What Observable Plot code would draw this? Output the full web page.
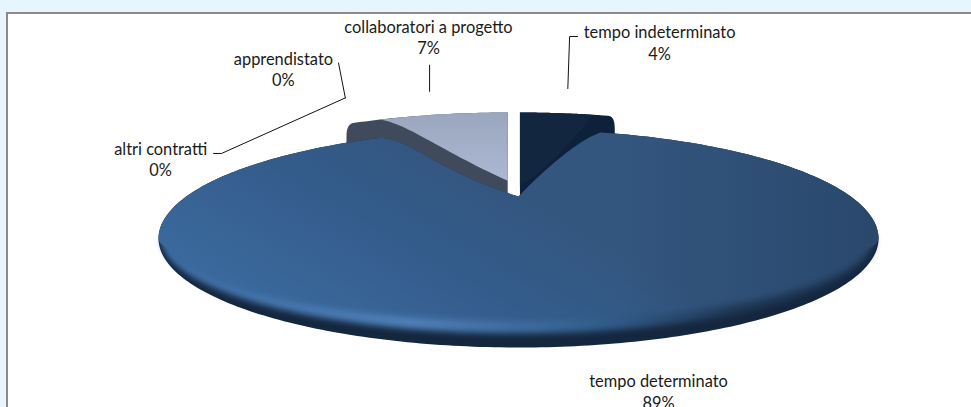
<!DOCTYPE html>
<html><head><meta charset="utf-8">
<script src="https://cdn.jsdelivr.net/npm/d3@7"></script>
<script src="https://cdn.jsdelivr.net/npm/@observablehq/plot@0.6"></script>
<style>
html,body{margin:0;padding:0;width:971px;height:407px;overflow:hidden;background:#e7f6fe}
#frame{position:absolute;left:6px;top:12px;width:990px;height:420px;background:#fff;border:2px solid #8a8a8a;border-bottom:none;border-right:none}
#chart{position:absolute;left:0;top:0}
svg{background:transparent!important;display:block}
</style></head><body>
<div id="frame"></div><div id="chart"></div>
<script>
const categories=["tempo indeterminato","tempo determinato","altri contratti","apprendistato","collaboratori a progetto"];
const shares=[4,89,0,0,7];
const labelX=[0.392,0.389,-0.994,-0.653,-0.25];
const labelY=[1.80,-1.40,0.734,1.56,1.85];
const leaderAltri=[[-0.847,0.78],[-0.825,0.78],[-0.481,1.29]];
const leaderAppr=[[-0.5,1.61],[-0.481,1.29]];
const leaderCollab=[[-0.247,1.59],[-0.247,1.35]];
const leaderInd=[[0.164,1.853],[0.142,1.853],[0.137,1.376]];

const TAU=2*Math.PI;
const rad=d=>d/100*TAU;
const endInd=rad(shares[0]);
const startCol=rad(100-shares[4]);
const rimMain=(a,sx,k)=>{const c=Math.cos(a);return [sx*Math.sin(a),c>=0?c:c*k];};
const oyB=0.156, oxL=-0.03, oxR=0.004;
const rimOff=(a,ox)=>[ox+Math.sin(a),oyB+Math.cos(a)];
const arcOff=(a0,a1,ox)=>d3.range(41).map(i=>rimOff(a0+(a1-a0)*i/40,ox));
function bez(p0,p1,p2,p3){return d3.range(31).map(i=>{const t=i/30,u=1-t;return [0,1].map(k=>u*u*u*p0[k]+3*u*u*t*p1[k]+3*u*t*t*p2[k]+t*t*t*p3[k]);});}

const apex=[0,0.385];
function mainShape(k=1){
  const a0=endInd*0.92,a1=startCol+(TAU-startCol)*0.1;
  const r0=rimMain(a0,1,1), r1=rimMain(a1,1,1);
  const right=bez(apex,[0.047,0.55],[r0[0]*0.69,0.9],r0);
  const left=bez(r1,[r1[0]*0.78,r1[1]],[r1[0]*0.6,0.624],apex);
  const n=300,arc=d3.range(n+1).map(i=>rimMain(a0+(a1-a0)*i/n,1,k));
  return [...right,...arc,...left];
}
// lower part of the rim only, for the soft bevel layers (hidden above by the crisp face)
function lowerShape(sx,k){
  const a0=TAU/4,a1=3*TAU/4,n=200;
  return d3.range(n+1).map(i=>rimMain(a0+(a1-a0)*i/n,sx,k));
}
function wallCol(){
  const a=TAU-rad(shares[4]);
  const r=rimOff(a,oxL);
  const cx=r[0]-0.022, cy=0.94;
  return [[oxL,0.3],[cx,0.7],[cx,cy],...bez([cx,cy],[cx,1.0],[cx+0.004,r[1]-0.005],r).slice(1),...arcOff(a,TAU,oxL)];
}
function wallInd(){
  const a=endInd*0.97;
  const r=rimOff(a,oxR);
  const cx=r[0]+0.022, cy=1.0;
  return [[oxR,0.385],...arcOff(0,a,oxR),...bez(r,[r[0]+0.015,r[1]],[cx,r[1]-0.03],[cx,cy]).slice(1),[cx,0.7]];
}
function faceCol(){
  const a=TAU-rad(shares[4])*0.82;
  const r=rimOff(a,oxL);
  return [...arcOff(a,TAU,oxL),...bez([oxL,0.53],[-0.217,0.807],[-0.3,1.037],r)];
}
function faceInd(){
  const a=endInd*0.81;
  const r=rimOff(a,oxR);
  return [...arcOff(0,a,oxR),...bez(r,[r[0]-0.02,r[1]-0.1],[0.08,0.62],[oxR,0.486])];
}
const poly=(pts,key)=>pts.map(p=>({x:p[0],y:p[1],key}));
const area=(pts,o)=>Plot.line(poly(pts,"s"),{x:"x",y:"y",curve:"linear",stroke:"none",...o});
const labels=categories.map((c,i)=>({t:`${c}\n${shares[i]}%`,x:labelX[i],y:labelY[i]}));
const leader=l=>Plot.line(poly(l,"l"),{x:"x",y:"y",stroke:"#111",strokeWidth:1});

const svg=Plot.plot({
  width:971,height:407,margin:0,
  x:{domain:[-1,1],range:[158,878],axis:null},
  y:{domain:[-1,1],range:[347,129],axis:null},
  style:{background:"transparent"},
  marks:[
    area(wallCol(),{fill:"#3f4a5c"}),
    area(faceCol(),{fill:"url(#gCol)"}),
    area(wallInd(),{fill:"#0d213a"}),
    area(faceInd(),{fill:"#12263f"}),
    area(mainShape(1),{fill:"#15273f"}),
    area(lowerShape(0.99,0.87),{fill:"url(#gHi)",imageFilter:"blur(3px)"}),
    area(lowerShape(0.985,0.76),{fill:"url(#gFace)",imageFilter:"blur(3px)"}),
    area(mainShape(0.4),{fill:"url(#gFace)"}),
    area(mainShape(1),{fill:"url(#gShade)"}),
    leader(leaderAltri),leader(leaderAppr),leader(leaderCollab),leader(leaderInd),
    Plot.text(labels,{x:"x",y:"y",text:"t",lineHeight:1.3,fontSize:16.4,fill:"#1a1a1a",fontFamily:"Lato"})
  ]
});
svg.insertAdjacentHTML("afterbegin",`<defs>
<linearGradient id="gCol" gradientUnits="userSpaceOnUse" x1="0" y1="110" x2="0" y2="190"><stop offset="0" stop-color="#9aa6bd"/><stop offset="1" stop-color="#afbbd6"/></linearGradient>
<linearGradient id="gHi" gradientUnits="userSpaceOnUse" x1="158" y1="0" x2="878" y2="0"><stop offset="0" stop-color="#3f6ea6"/><stop offset=".35" stop-color="#5081b8"/><stop offset=".6" stop-color="#33608f"/><stop offset=".8" stop-color="#223c5c"/><stop offset="1" stop-color="#1e3452"/></linearGradient>
<linearGradient id="gFace" gradientUnits="userSpaceOnUse" x1="320" y1="330" x2="430" y2="140"><stop offset="0" stop-color="#3a689c"/><stop offset=".55" stop-color="#345c8b"/><stop offset="1" stop-color="#33567f"/></linearGradient>
<linearGradient id="gShade" gradientUnits="userSpaceOnUse" x1="620" y1="0" x2="878" y2="0"><stop offset="0" stop-color="#14263f" stop-opacity="0"/><stop offset="1" stop-color="#14263f" stop-opacity=".3"/></linearGradient>
</defs>`);
document.getElementById("chart").append(svg);
</script></body></html>
